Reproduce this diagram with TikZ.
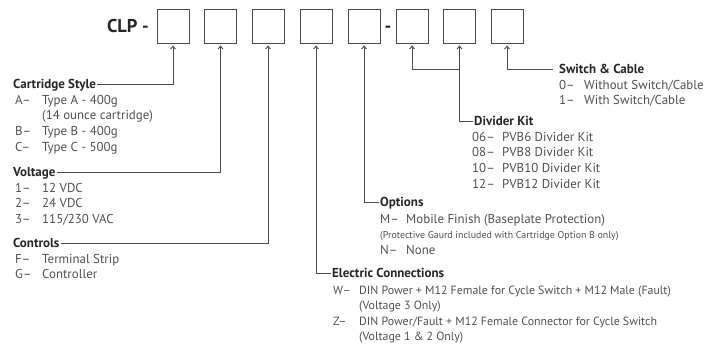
\documentclass[tikz,border=0pt]{standalone}
\usepackage{fontspec}
\setmainfont{PT Sans}
\usetikzlibrary{arrows.meta,calc}
\definecolor{linec}{HTML}{4A4A4A}
\definecolor{headc}{HTML}{262626}
\definecolor{bodyc}{HTML}{505050}
\begin{document}
\begin{tikzpicture}[x=1pt,y=-1pt,
  box/.style={draw=linec, line width=0.9pt, minimum width=32pt, minimum height=34pt, inner sep=0pt},
  conn/.style={draw=linec, line width=0.9pt},
  arr/.style={conn, -{Straight Barb[length=3pt,width=5pt,line width=0.9pt]}, shorten >=2pt},
  head/.style={font=\fontsize{13}{15}\selectfont\bfseries, text=headc, inner sep=1pt, text height=9pt, text depth=1pt, anchor=base west},
  list/.style={font=\fontsize{12.9}{15.8}\selectfont, text=bodyc, inner sep=0pt, anchor=base west},
  big/.style={font=\fontsize{18.5}{20}\selectfont\bfseries, text=headc, inner sep=0pt, anchor=base east},
]
\useasboundingbox (0,0) rectangle (721,346);

% code boxes
\node[box] (b1) at (173,26) {};
\node[box] (b2) at (220.5,26) {};
\node[box] (b3) at (268,26) {};
\node[box] (b4) at (316,26) {};
\node[box] (b5) at (364,26) {};
\node[box] (b6) at (412,26) {};
\node[box] (b7) at (459.5,26) {};
\node[box] (b8) at (507,26) {};
\node[big] (clp) at (149,32) {CLP -};
\node[big, anchor=base] (dash) at ($(b5.east)!0.5!(b6.west)+(0,6)$) {-};

% Cartridge style
\node[head] (hcs) at (12,88) {Cartridge Style};
\node[list] (lcs) at (15,104) {\begin{tabular}[t]{@{}p{27pt}@{}l@{}}
A– & Type A - 400g\\
   & (14 ounce cartridge)\\
B– & Type B - 400g\\
C– & Type C - 500g
\end{tabular}};

% Voltage
\node[head] (hv) at (12,176) {Voltage};
\node[list] (lv) at (15,192) {\begin{tabular}[t]{@{}p{27pt}@{}l@{}}
1– & 12 VDC\\
2– & 24 VDC\\
3– & 115/230 VAC
\end{tabular}};

% Controls
\node[head] (hc) at (12,247) {Controls};
\node[list] (lc) at (15,263) {\begin{tabular}[t]{@{}p{27pt}@{}l@{}}
F– & Terminal Strip\\
G– & Controller
\end{tabular}};

% Electric connections
\node[head] (he) at (331,277) {Electric Connections};
\node[list, font=\fontsize{11.9}{15.6}\selectfont] (le) at (333,294) {\begin{tabular}[t]{@{}p{26pt}@{}l@{}}
W– & DIN Power + M12 Female for Cycle Switch + M12 Male (Fault)\\
   & (Voltage 3 Only)\\
Z– & DIN Power/Fault + M12 Female Connector for Cycle Switch\\
   & (Voltage 1 \& 2 Only)
\end{tabular}};

% Options
\node[head] (ho) at (379,206) {Options};
\node[list] (lo) at (380,223) {\begin{tabular}[t]{@{}p{26pt}@{}l@{}}
M– & Mobile Finish (Baseplate Protection)\\
\multicolumn{2}{@{}l@{}}{\fontsize{9.9}{10}\selectfont (Protective Gaurd included with Cartridge Option B only)}\\
N– & None
\end{tabular}};

% Divider kit
\node[head] (hd) at (473,125) {Divider Kit};
\node[list] (ld) at (472,141) {\begin{tabular}[t]{@{}p{30pt}@{}l@{}}
06– & PVB6 Divider Kit\\
08– & PVB8 Divider Kit\\
10– & PVB10 Divider Kit\\
12– & PVB12 Divider Kit
\end{tabular}};

% Switch & cable
\node[head] (hs) at (558,73) {Switch \& Cable};
\node[list] (ls) at (559,89) {\begin{tabular}[t]{@{}p{25pt}@{}l@{}}
0– & Without Switch/Cable\\
1– & With Switch/Cable
\end{tabular}};

% connectors
\draw[arr] (hcs.east) -| (b1);
\draw[arr] (hv.east) -| (b2);
\draw[arr] (hc.east) -| (b3);
\draw[arr] (he.west) -| (b4);
\draw[arr] (ho.west) -| (b5);
\draw[arr] (hd.west) -| (b7);
\coordinate (dj) at (b7 |- hs.west);
\draw[arr] (dj) -| (b6);
\draw[arr, shorten <=5pt] (hs.west) -| (b8);
\end{tikzpicture}
\end{document}
